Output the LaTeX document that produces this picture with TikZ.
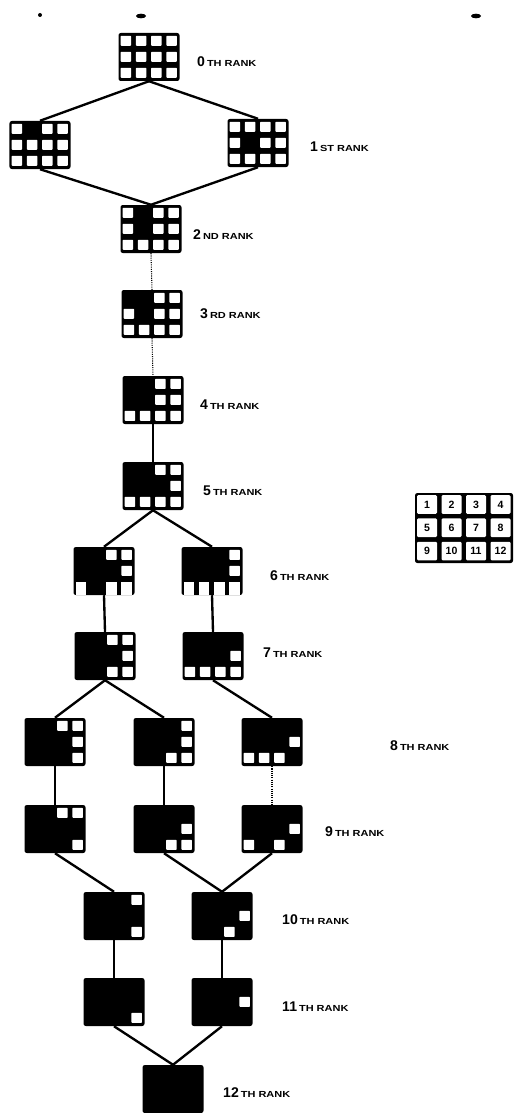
\documentclass[tikz,border=0pt]{standalone}
\usepackage{fontspec}
\setmainfont{Liberation Sans}
\newfontfamily\widesans[FakeStretch=1.25]{Liberation Sans}

% white squares for the empty places of a 4x3 grid node
\newcommand{\holes}[2]{%
  \foreach \c in {#2} {%
    \pgfmathtruncatemacro{\col}{mod(\c-1,4)}%
    \pgfmathtruncatemacro{\row}{(\c-1)/4}%
    \fill[white, rounded corners=0.5pt]
      ([xshift=\col*4.575mm+0.74mm, yshift=-\row*4.8mm-0.9mm]#1.north west)
      rectangle ++(3.1mm,-3.0mm);
  }}
% bottom row places left open at the lower edge
\newcommand{\openholes}[2]{%
  \foreach \c in {#2} {%
    \pgfmathtruncatemacro{\col}{mod(\c-1,4)}%
    \fill[white]
      ([xshift=\col*4.575mm+0.74mm, yshift=-10.5mm]#1.north west)
      rectangle ++(3.1mm,-4.0mm);
  }}
\newcommand{\rk}[2]{{\fontsize{12}{12}\selectfont #1}\,%
  {\widesans\fontsize{7.5}{8}\selectfont #2 RANK}}

\begin{document}
\begin{tikzpicture}[x=0.3mm, y=-0.3mm,
    grid/.style={fill=black, rounded corners=2pt, minimum width=18.3mm,
      minimum height=14.4mm, inner sep=0pt},
    link/.style={line width=2pt},
    faint/.style={line width=0.9pt, densely dotted},
    rank/.style={anchor=west, inner sep=0pt, font=\bfseries},
    key/.style={fill=black, rounded corners=2pt, minimum width=29.4mm,
      minimum height=21mm, inner sep=0pt},
    keycell/.style={fill=white, rounded corners=1pt, minimum width=6.0mm,
      minimum height=5.6mm, inner sep=0pt, font=\bfseries\small}
  ]
    \useasboundingbox (0,0) rectangle (516,1113);

    % specks along the top edge
    \fill (40,15) circle[radius=0.6mm];
    \fill (141,16) ellipse[x radius=1.5mm, y radius=0.7mm];
    \fill (476,16) ellipse[x radius=1.5mm, y radius=0.7mm];

    \node[grid] (r0) at (149,57) {};
    \node[grid] (r1a) at (40,145) {};
    \node[grid] (r1b) at (258,143) {};
    \node[grid] (r2) at (151,229) {};
    \node[grid] (r3) at (152,314) {};
    \node[grid] (r4) at (153,400) {};
    \node[grid] (r5) at (153,486) {};
    \node[grid] (r6a) at (104,571) {};
    \node[grid] (r6b) at (212,571) {};
    \node[grid] (r7a) at (105,656) {};
    \node[grid] (r7b) at (213,656) {};
    \node[grid] (r8a) at (55,742) {};
    \node[grid] (r8b) at (164,742) {};
    \node[grid] (r8c) at (272,742) {};
    \node[grid] (r9a) at (55,829) {};
    \node[grid] (r9b) at (164,829) {};
    \node[grid] (r9c) at (272,829) {};
    \node[grid] (r10a) at (114,916) {};
    \node[grid] (r10b) at (222,916) {};
    \node[grid] (r11a) at (114,1002) {};
    \node[grid] (r11b) at (222,1002) {};
    \node[grid] (r12) at (173,1089) {};

    \holes{r0}{1,...,12}
    \holes{r1a}{1,3,4,5,6,7,8,9,10,11,12}
    \holes{r1b}{1,2,3,4,5,7,8,9,10,11,12}
    \holes{r2}{1,3,4,5,7,8,9,10,11,12}
    \holes{r3}{3,4,5,7,8,9,10,11,12}
    \holes{r4}{3,4,7,8,9,10,11,12}
    \holes{r5}{3,4,8,9,10,11,12}
    \holes{r6a}{3,4,8}
    \openholes{r6a}{9,11,12}
    \holes{r6b}{4,8}
    \openholes{r6b}{9,10,11,12}
    \holes{r7a}{3,4,8,11,12}
    \holes{r7b}{8,9,10,11,12}
    \holes{r8a}{3,4,8,12}
    \holes{r8b}{4,8,11,12}
    \holes{r8c}{8,9,10,11}
    \holes{r9a}{3,4,12}
    \holes{r9b}{8,11,12}
    \holes{r9c}{8,9,11}
    \holes{r10a}{4,12}
    \holes{r10b}{8,11}
    \holes{r11a}{12}
    \holes{r11b}{8}

    \draw[link] (r0.south) -- (r1a.north);
    \draw[link] (r0.south) -- (r1b.north);
    \draw[link] (r1a.south) -- (r2.north);
    \draw[link] (r1b.south) -- (r2.north);
    \draw[faint] (r2.south) -- (r3.north);
    \draw[faint] (r3.south) -- (r4.north);
    \draw[link] (r4.south) -- (r5.north);
    \draw[link] (r5.south) -- (r6a.north);
    \draw[link] (r5.south) -- (r6b.north);
    \draw[link] (r6a.south) -- (r7a.north);
    \draw[link] (r6b.south) -- (r7b.north);
    \draw[link] (r7a.south) -- (r8a.north);
    \draw[link] (r7a.south) -- (r8b.north);
    \draw[link] (r7b.south) -- (r8c.north);
    \draw[link] (r8a.south) -- (r9a.north);
    \draw[link] (r8b.south) -- (r9b.north);
    \draw[faint] (r8c.south) -- (r9c.north);
    \draw[link] (r9a.south) -- (r10a.north);
    \draw[link] (r9b.south) -- (r10b.north);
    \draw[link] (r9c.south) -- (r10b.north);
    \draw[link] (r10a.south) -- (r11a.north);
    \draw[link] (r10b.south) -- (r11b.north);
    \draw[link] (r11a.south) -- (r12.north);
    \draw[link] (r11b.south) -- (r12.north);

    \node[rank] (l0) at (197,62) {\rk{0}{TH}};
    \node[rank] (l1) at (310,147) {\rk{1}{ST}};
    \node[rank] (l2) at (193,235) {\rk{2}{ND}};
    \node[rank] (l3) at (200,314) {\rk{3}{RD}};
    \node[rank] (l4) at (200,405) {\rk{4}{TH}};
    \node[rank] (l5) at (203,491) {\rk{5}{TH}};
    \node[rank] (l6) at (270,576) {\rk{6}{TH}};
    \node[rank] (l7) at (263,653) {\rk{7}{TH}};
    \node[rank] (l8) at (390,746) {\rk{8}{TH}};
    \node[rank] (l9) at (325,832) {\rk{9}{TH}};
    \node[rank] (l10) at (282,920) {\rk{10}{TH}};
    \node[rank] (l11) at (282,1007) {\rk{11}{TH}};
    \node[rank] (l12) at (223,1093) {\rk{12}{TH}};

    % numbering of the places
    \node[key] (key) at (464,528) {};
    \foreach \n in {1,...,12} {
      \pgfmathtruncatemacro{\col}{mod(\n-1,4)}
      \pgfmathtruncatemacro{\row}{(\n-1)/4}
      \node[keycell] (k\n) at
        ([xshift=\col*7.35mm+3.675mm, yshift=-\row*7mm-3.5mm]key.north west) {\n};
    }
\end{tikzpicture}
\end{document}
